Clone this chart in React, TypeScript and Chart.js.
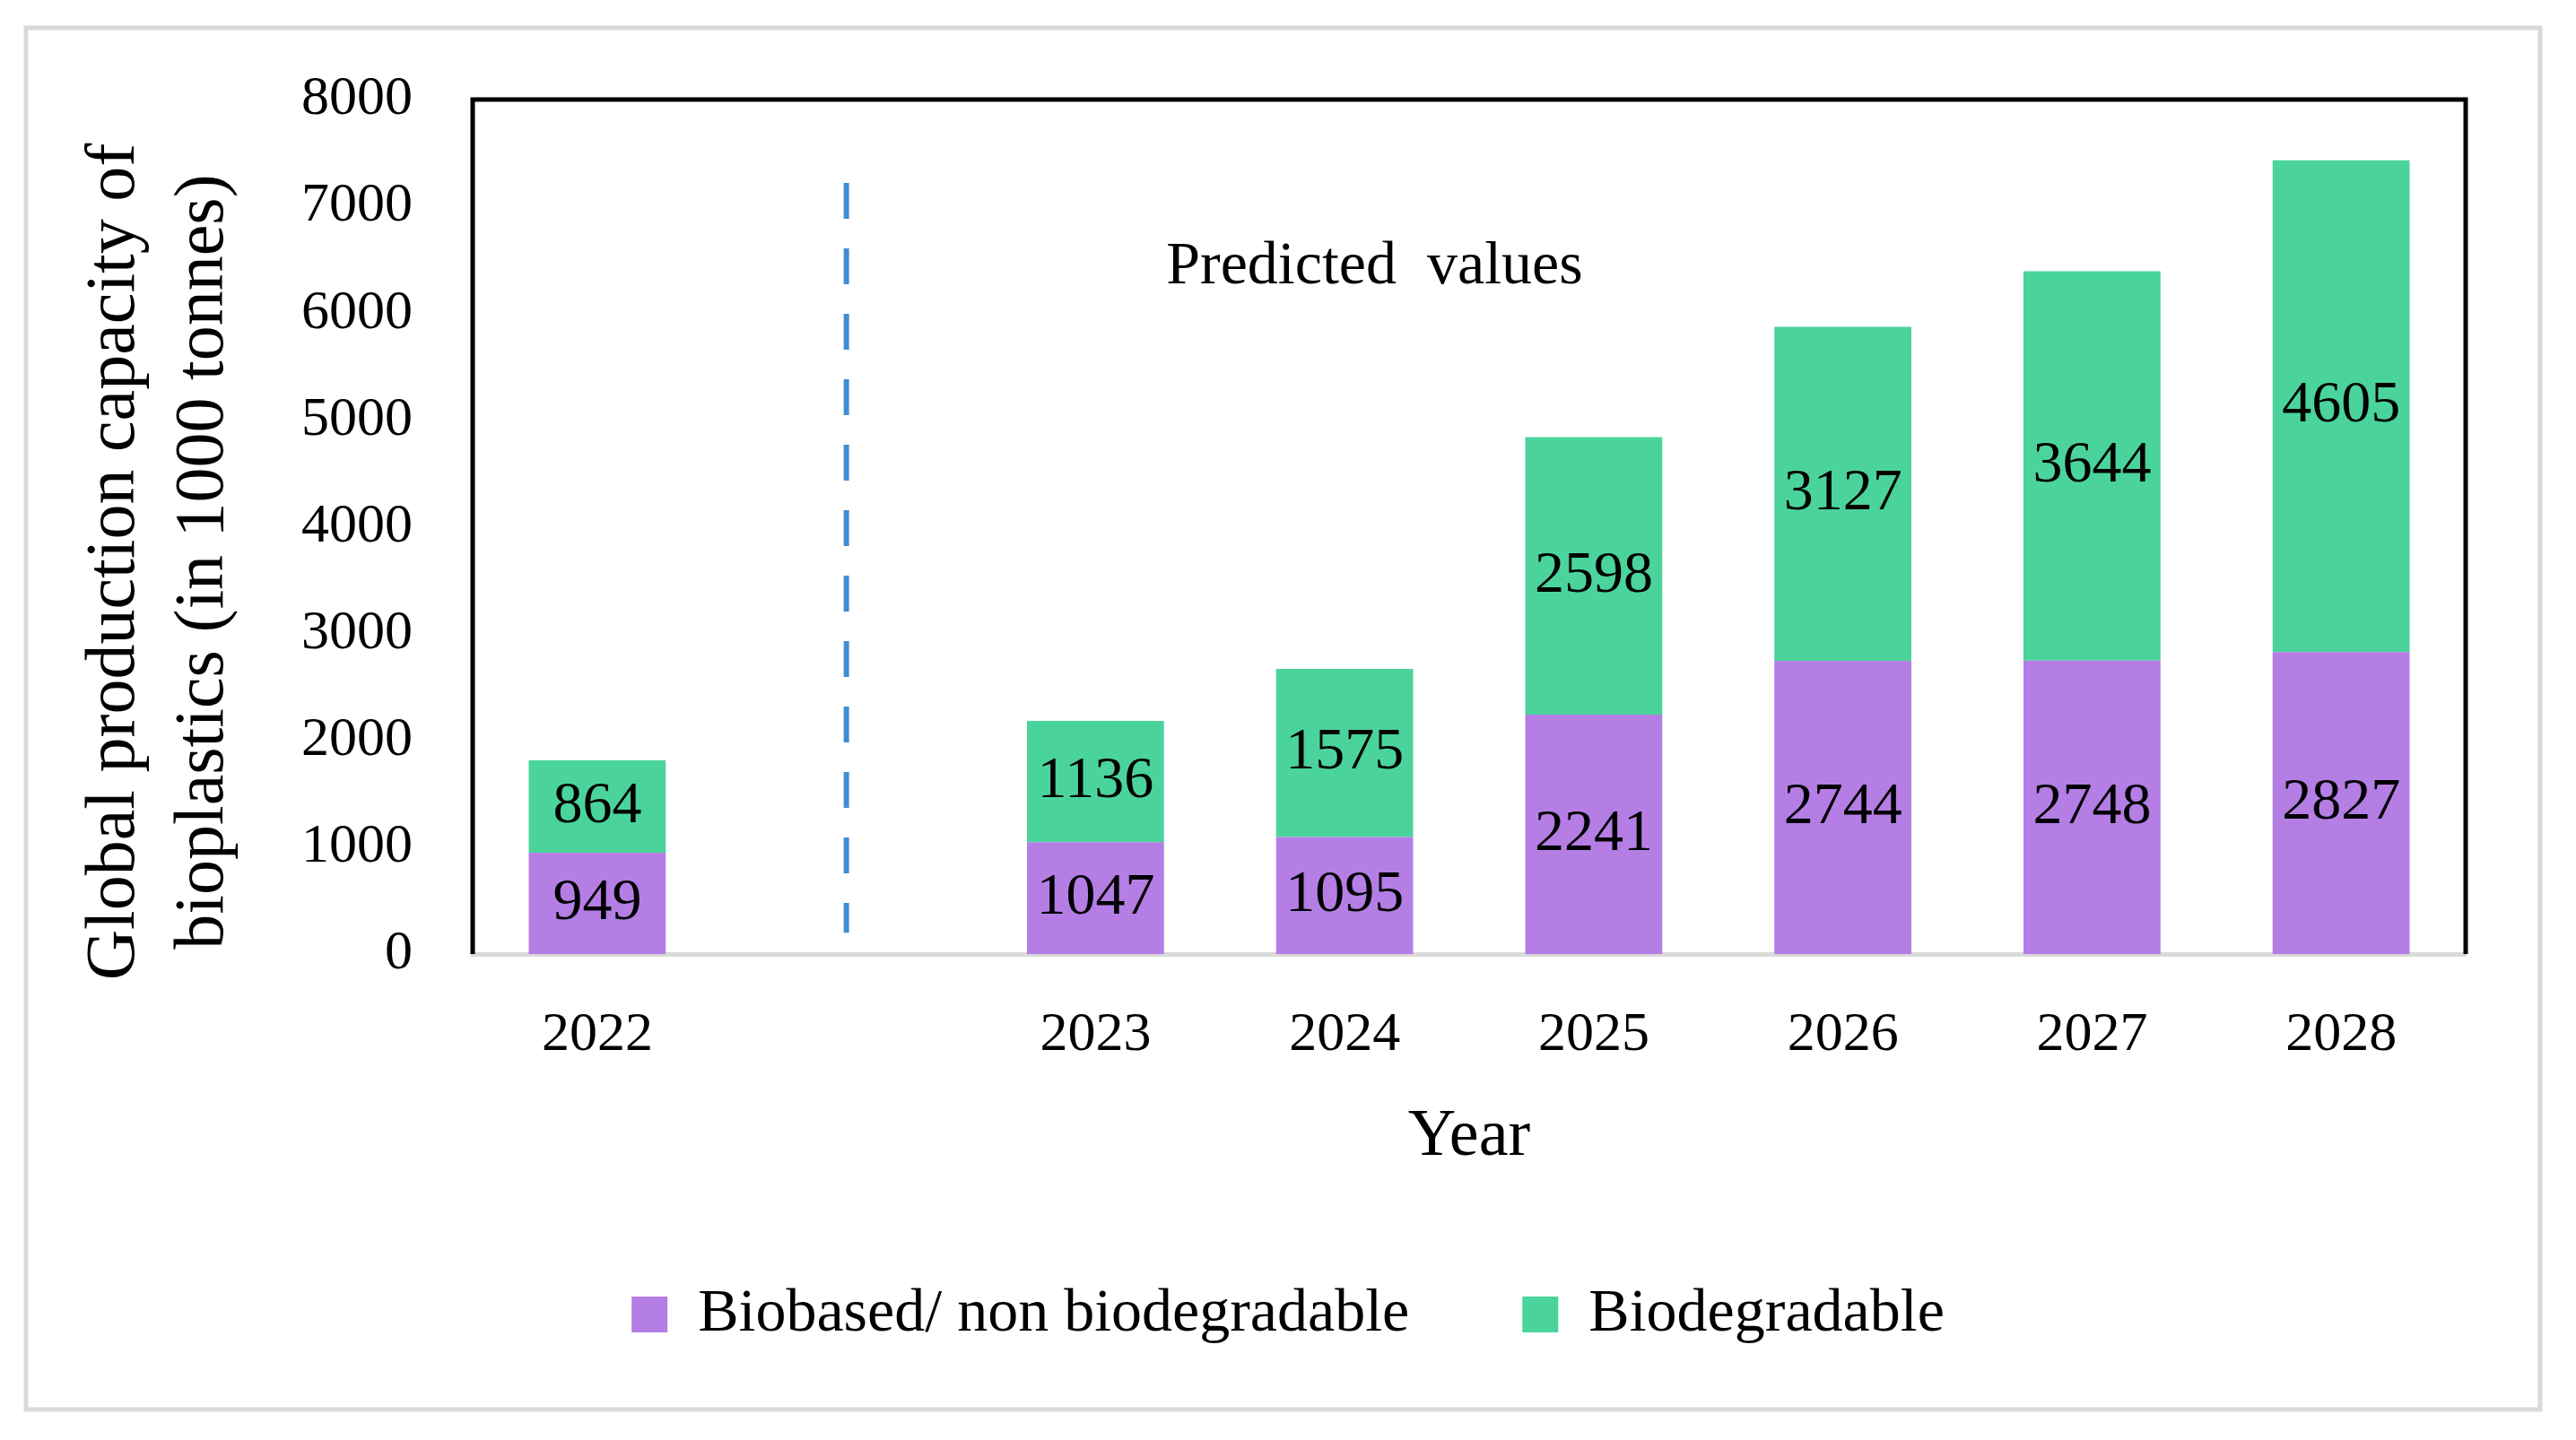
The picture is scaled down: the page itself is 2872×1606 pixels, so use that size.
import React, { useEffect, useRef } from "react";
import { Chart, registerables } from "chart.js";

Chart.register(...registerables);

// ---------- data ----------
const categories = ["2022", "", "2023", "2024", "2025", "2026", "2027", "2028"];
const biobasedValues: (number | null)[] = [949, null, 1047, 1095, 2241, 2744, 2748, 2827];
const biodegradableValues: (number | null)[] = [864, null, 1136, 1575, 2598, 3127, 3644, 4605];
const seriesNames = ["Biobased/ non biodegradable", "Biodegradable"];
const yMin = 0;
const yMax = 8000;
const yStep = 1000;
const yAxisTitle = ["Global production capacity of", "bioplastics (in 1000 tonnes)"];
const xAxisTitle = "Year";
const annotationText = "Predicted  values";
const annotationAt = [3.12, 6430]; // [category index, value]
const dividerIndex = 1; // empty category separating actual from predicted
const dividerRange = [200, 7220]; // value range of the dashed divider

// ---------- styles ----------
const FONT = "'Liberation Serif', 'Times New Roman', serif";
const PURPLE = "#B47EE5";
const GREEN = "#4AD49C";
const BLUE = "#418DD3";
const NB = "\u00a0\u00a0\u00a0\u00a0";

const framePlugin = {
  id: "frame",
  beforeDraw(chart: any) {
    const { ctx, width, height } = chart;
    ctx.save();
    ctx.fillStyle = "#ffffff";
    ctx.fillRect(0, 0, width, height);
    ctx.strokeStyle = "#d9d9d9";
    ctx.lineWidth = 5;
    ctx.strokeRect(29, 31, width - 29 - 40, height - 31 - 34);
    ctx.restore();
  },
};

const plotBorderPlugin = {
  id: "plotBorder",
  afterDraw(chart: any) {
    const { ctx, chartArea } = chart;
    const { left, top, right, bottom } = chartArea;
    ctx.save();
    ctx.strokeStyle = "#000000";
    ctx.lineWidth = 5;
    ctx.lineJoin = "miter";
    ctx.beginPath();
    ctx.moveTo(left, bottom);
    ctx.lineTo(left, top);
    ctx.lineTo(right, top);
    ctx.lineTo(right, bottom);
    ctx.stroke();
    ctx.restore();
  },
};

const dividerPlugin = {
  id: "divider",
  afterDatasetsDraw(chart: any) {
    const { ctx, scales } = chart;
    const x = scales.x.getPixelForValue(dividerIndex);
    const y1 = scales.y.getPixelForValue(dividerRange[1]);
    const y2 = scales.y.getPixelForValue(dividerRange[0]);
    ctx.save();
    ctx.strokeStyle = BLUE;
    ctx.lineWidth = 6;
    ctx.setLineDash([40, 33]);
    ctx.beginPath();
    ctx.moveTo(x, y1);
    ctx.lineTo(x, y2);
    ctx.stroke();
    ctx.restore();
  },
};

const annotationPlugin = {
  id: "annotationText",
  afterDatasetsDraw(chart: any) {
    const { ctx, scales } = chart;
    const x = scales.x.getPixelForValue(annotationAt[0]);
    const y = scales.y.getPixelForValue(annotationAt[1]);
    ctx.save();
    ctx.fillStyle = "#000000";
    ctx.font = `68px ${FONT}`;
    ctx.textAlign = "center";
    ctx.textBaseline = "middle";
    ctx.fillText(annotationText, x, y);
    ctx.restore();
  },
};

const dataLabelPlugin = {
  id: "dataLabels",
  afterDatasetsDraw(chart: any) {
    const { ctx } = chart;
    ctx.save();
    ctx.fillStyle = "#000000";
    ctx.font = `66px ${FONT}`;
    ctx.textAlign = "center";
    ctx.textBaseline = "middle";
    chart.data.datasets.forEach((ds: any, di: number) => {
      const meta = chart.getDatasetMeta(di);
      if (meta.hidden) return;
      meta.data.forEach((bar: any, i: number) => {
        const v = ds.data[i];
        if (v == null) return;
        const p = bar.getProps(["x", "y", "base"], true);
        ctx.fillText(String(v), p.x, (p.y + p.base) / 2);
      });
    });
    ctx.restore();
  },
};

export default function App() {
  const canvasRef = useRef<HTMLCanvasElement>(null);

  useEffect(() => {
    document.body.style.margin = "0";
    const chart = new Chart(canvasRef.current as HTMLCanvasElement, {
      type: "bar",
      data: {
        labels: categories,
        datasets: [
          {
            label: seriesNames[0],
            data: biobasedValues,
            backgroundColor: PURPLE,
            borderWidth: 0,
            barPercentage: 0.55,
            categoryPercentage: 1,
          },
          {
            label: seriesNames[1],
            data: biodegradableValues,
            backgroundColor: GREEN,
            borderWidth: 0,
            barPercentage: 0.55,
            categoryPercentage: 1,
          },
        ],
      },
      options: {
        animation: false,
        responsive: true,
        maintainAspectRatio: false,
        devicePixelRatio: 1,
        layout: { padding: { left: 29, right: 29, top: 111, bottom: 96 } },
        plugins: {
          legend: {
            position: "bottom",
            labels: {
              boxWidth: 40,
              boxHeight: 40,
              padding: 126,
              color: "#000000",
              font: { family: FONT, size: 68 },
            },
          },
          tooltip: { enabled: false },
        },
        scales: {
          x: {
            stacked: true,
            grid: { display: false, drawTicks: false },
            border: { display: true, color: "#d9d9d9", width: 5 },
            ticks: {
              color: "#000000",
              font: { family: FONT, size: 62 },
              padding: 54,
              autoSkip: false,
              maxRotation: 0,
            },
            title: {
              display: true,
              text: xAxisTitle,
              color: "#000000",
              font: { family: FONT, size: 74, lineHeight: 1 },
              padding: { top: 0, bottom: 0 },
            },
            afterFit(scale: any) {
              scale.height = 242;
            },
          },
          y: {
            stacked: true,
            min: yMin,
            max: yMax,
            grid: { display: false, drawTicks: false },
            border: { display: false },
            ticks: {
              stepSize: yStep,
              color: "#000000",
              font: { family: FONT, size: 62 },
              padding: 67,
              callback: (v: any) => String(v),
            },
            title: {
              display: true,
              text: yAxisTitle.map((t) => t + NB),
              color: "#000000",
              font: { family: FONT, size: 78, lineHeight: 1.27 },
              padding: { top: 50, bottom: 0 },
            },
            afterFit(scale: any) {
              scale.width = 498;
            },
          },
          y2: {
            position: "right",
            display: true,
            grid: { display: false, drawTicks: false },
            border: { display: false },
            ticks: { display: false },
            afterFit(scale: any) {
              scale.width = 94;
            },
          },
        },
      } as any,
      plugins: [framePlugin, dividerPlugin, annotationPlugin, dataLabelPlugin, plotBorderPlugin],
    });
    return () => chart.destroy();
  }, []);

  return (
    <div style={{ position: "relative", width: 2872, height: 1606 }}>
      <canvas ref={canvasRef} />
    </div>
  );
}
